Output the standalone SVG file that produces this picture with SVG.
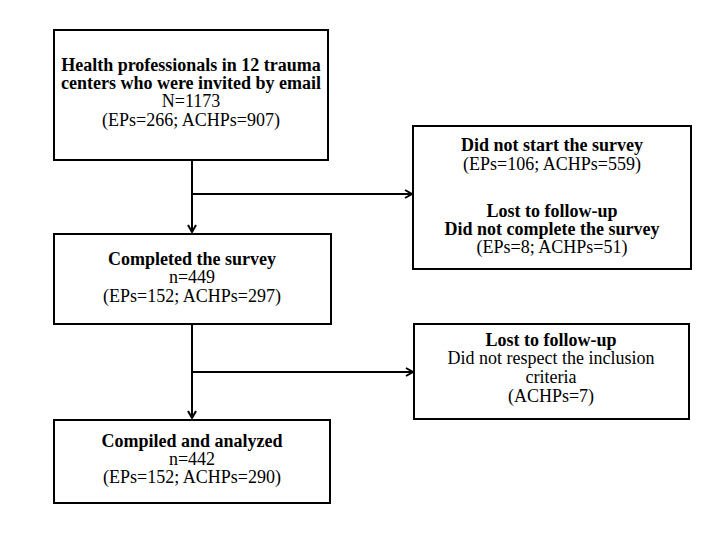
<svg xmlns="http://www.w3.org/2000/svg" width="720" height="540" viewBox="0 0 720 540">
<defs>
<marker id="ah" markerWidth="10" markerHeight="10" refX="8" refY="5" orient="auto" markerUnits="userSpaceOnUse">
<path d="M1,1 L8,5 L1,9" fill="none" stroke="#000" stroke-width="2"/>
</marker>
<style>
.box{fill:#fff;stroke:#000;stroke-width:2}
.t{font-family:"Liberation Serif","Times New Roman",serif;font-size:18px;text-anchor:middle;fill:#000}
.b{font-weight:bold}
.c{fill:none;stroke:#000;stroke-width:2}
</style>
</defs>
<rect width="720" height="540" fill="#fff"/>
<g id="connectors">
<line class="c" x1="192" y1="160" x2="192" y2="232" marker-end="url(#ah)"/>
<line class="c" x1="192" y1="194" x2="412" y2="194" marker-end="url(#ah)"/>
<line class="c" x1="192" y1="324" x2="192" y2="418" marker-end="url(#ah)"/>
<line class="c" x1="192" y1="372" x2="413" y2="372" marker-end="url(#ah)"/>
</g>
<g id="invited">
<rect class="box" x="54" y="30" width="274" height="130"/>
<text class="t b" x="191" y="71">Health professionals in 12 trauma</text>
<text class="t b" x="191" y="89">centers who were invited by email</text>
<text class="t" x="191" y="107">N=1173</text>
<text class="t" x="191" y="126">(EPs=266; ACHPs=907)</text>
</g>
<g id="excluded1">
<rect class="box" x="413" y="126" width="278" height="143"/>
<text class="t b" x="552" y="151">Did not start the survey</text>
<text class="t" x="552" y="170">(EPs=106; ACHPs=559)</text>
<text class="t b" x="552" y="217">Lost to follow-up</text>
<text class="t b" x="552" y="235">Did not complete the survey</text>
<text class="t" x="552" y="253">(EPs=8; ACHPs=51)</text>
</g>
<g id="completed">
<rect class="box" x="54" y="234" width="277" height="90"/>
<text class="t b" x="192" y="265">Completed the survey</text>
<text class="t" x="192" y="283">n=449</text>
<text class="t" x="192" y="302">(EPs=152; ACHPs=297)</text>
</g>
<g id="excluded2">
<rect class="box" x="414" y="324" width="275" height="95"/>
<text class="t b" x="551" y="346">Lost to follow-up</text>
<text class="t" x="551" y="364">Did not respect the inclusion</text>
<text class="t" x="551" y="383">criteria</text>
<text class="t" x="551" y="402">(ACHPs=7)</text>
</g>
<g id="analyzed">
<rect class="box" x="54" y="420" width="276" height="83"/>
<text class="t b" x="192" y="447">Compiled and analyzed</text>
<text class="t" x="192" y="465">n=442</text>
<text class="t" x="192" y="483">(EPs=152; ACHPs=290)</text>
</g>
</svg>
